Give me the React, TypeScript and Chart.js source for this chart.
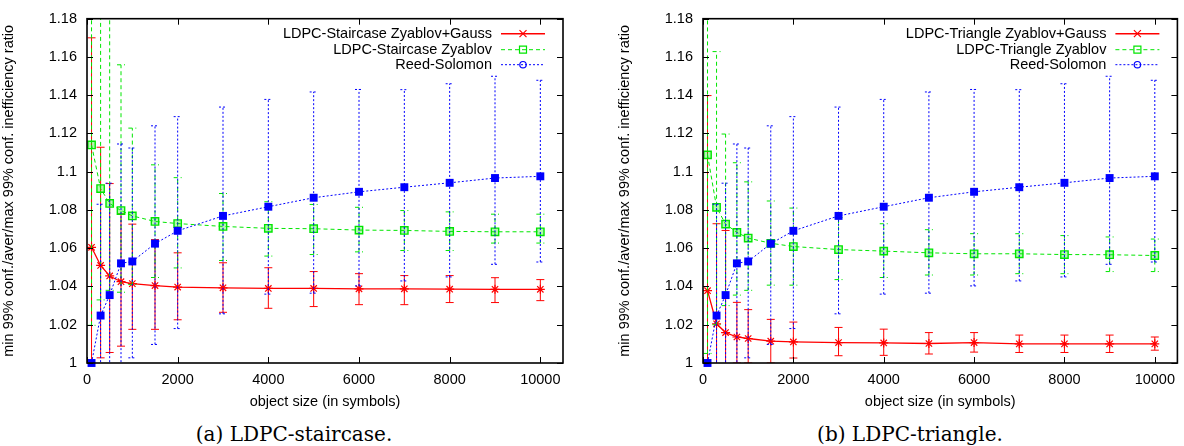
import React, { useEffect, useRef } from 'react';
import { Chart, registerables } from 'chart.js';

Chart.register(...registerables);

// ---------- data ----------
const objectSizes = [100, 300, 500, 750, 1000, 1500, 2000, 3000, 4000, 5000, 6000, 7000, 8000, 9000, 10000];
const xTicks = [0, 2000, 4000, 6000, 8000, 10000];
const yTicks = [1, 1.02, 1.04, 1.06, 1.08, 1.1, 1.12, 1.14, 1.16, 1.18];

// (a) LDPC-Staircase Zyablov+Gauss
const stairGaussMean = [1.0605, 1.051, 1.0455, 1.0425, 1.0415, 1.0405, 1.0397, 1.0393, 1.039, 1.039, 1.0388, 1.0388, 1.0386, 1.0385, 1.0385];
const stairGaussLow = [0.99, 1.0027, 1.0055, 1.0088, 1.0176, 1.0176, 1.0226, 1.0265, 1.0286, 1.0295, 1.0305, 1.0305, 1.0316, 1.0316, 1.0326];
const stairGaussHigh = [1.17, 1.1128, 1.0938, 1.078, 1.0726, 1.0645, 1.0576, 1.0524, 1.0498, 1.0478, 1.0467, 1.0457, 1.0457, 1.0446, 1.0436];

// (a) LDPC-Staircase Zyablov
const stairMean = [1.114, 1.0912, 1.0834, 1.0797, 1.0769, 1.074, 1.0729, 1.0714, 1.0704, 1.0702, 1.0695, 1.0693, 1.0688, 1.0686, 1.0686];
const stairLow = [1.0197, 1.033, 1.038, 1.037, 1.041, 1.0447, 1.0497, 1.0536, 1.0559, 1.0567, 1.0581, 1.0588, 1.0588, 1.0627, 1.0627];
const stairHigh = [1.2, 1.2, 1.2, 1.1559, 1.1228, 1.1036, 1.0969, 1.0886, 1.0843, 1.0829, 1.0814, 1.0797, 1.079, 1.0778, 1.0778];

// Reed-Solomon (both panels)
const rsMean = [1.0, 1.0248, 1.0355, 1.0521, 1.0531, 1.0624, 1.0691, 1.0769, 1.0817, 1.0864, 1.0895, 1.0919, 1.0942, 1.0967, 1.0976];
const rsLow = [1.0, 0.99, 0.99, 0.99, 1.0027, 1.0097, 1.018, 1.0257, 1.036, 1.0365, 1.0403, 1.0429, 1.045, 1.0516, 1.0528];
const rsHigh = [1.0, 1.083, 1.094, 1.1145, 1.1124, 1.124, 1.1288, 1.1338, 1.1378, 1.1417, 1.143, 1.1429, 1.146, 1.1499, 1.1478];

// (b) LDPC-Triangle Zyablov+Gauss
const triGaussMean = [1.0378, 1.0205, 1.0159, 1.0136, 1.0128, 1.0114, 1.011, 1.0107, 1.0105, 1.0102, 1.0107, 1.01, 1.01, 1.01, 1.01];
const triGaussLow = [0.99, 0.995, 0.999, 1.0, 1.0, 1.0, 1.0026, 1.0038, 1.004, 1.0047, 1.0057, 1.0055, 1.0055, 1.0055, 1.0067];
const triGaussHigh = [1.1398, 1.0728, 1.0693, 1.0317, 1.0279, 1.0228, 1.0214, 1.0186, 1.0177, 1.0159, 1.0159, 1.0146, 1.0146, 1.0146, 1.0136];

// (b) LDPC-Triangle Zyablov
const triMean = [1.1088, 1.0814, 1.0726, 1.0683, 1.0653, 1.0626, 1.0609, 1.0593, 1.0585, 1.0576, 1.0571, 1.0571, 1.0567, 1.0566, 1.0562];
const triLow = [1.005, 1.02, 1.03, 1.0355, 1.038, 1.0407, 1.0407, 1.0436, 1.0447, 1.046, 1.046, 1.0467, 1.0467, 1.0478, 1.0478];
const triHigh = [1.2, 1.1628, 1.1197, 1.1047, 1.0947, 1.0847, 1.081, 1.076, 1.0728, 1.0697, 1.0676, 1.0676, 1.0666, 1.0659, 1.0648];

const panelALabels = ['LDPC-Staircase Zyablov+Gauss', 'LDPC-Staircase Zyablov', 'Reed-Solomon'];
const panelBLabels = ['LDPC-Triangle Zyablov+Gauss', 'LDPC-Triangle Zyablov', 'Reed-Solomon'];

const xTitle = 'object size (in symbols)';
const yTitle = 'min 99% conf./aver/max 99% conf. inefficiency ratio';

// ---------- styles ----------
const RED = '#ff0000';
const GREEN = '#00e600';
const BLUE = '#0000ff';
const SANS = '"Liberation Sans", Arial, Helvetica, sans-serif';

type SeriesStyle = { color: string; dash: number[]; legendMarker: string };
const styles: SeriesStyle[] = [
  { color: RED, dash: [], legendMarker: 'cross' },
  { color: GREEN, dash: [4, 3], legendMarker: 'square' },
  { color: BLUE, dash: [2, 2], legendMarker: 'circle' },
];

function drawLegendMarker(ctx: CanvasRenderingContext2D, kind: string, x: number, y: number, color: string) {
  ctx.save();
  ctx.setLineDash([]);
  ctx.strokeStyle = color;
  ctx.lineWidth = 1.2;
  ctx.beginPath();
  if (kind === 'cross') {
    const r = 3.5;
    ctx.moveTo(x - r, y - r); ctx.lineTo(x + r, y + r);
    ctx.moveTo(x - r, y + r); ctx.lineTo(x + r, y - r);
  } else if (kind === 'square') {
    ctx.rect(x - 3.5, y - 3.5, 7, 7);
  } else {
    ctx.arc(x, y, 3.2, 0, Math.PI * 2);
  }
  ctx.stroke();
  ctx.restore();
}

function makePlugin(labels: string[]) {
  return {
    id: 'gnuFrame',
    beforeDatasetDraw(chart: any, args: any) {
      const ds = chart.data.datasets[args.index];
      if (!ds.errLow) return;
      const ctx: CanvasRenderingContext2D = chart.ctx;
      const xs = chart.scales.x;
      const ys = chart.scales.y;
      const a = chart.chartArea;
      ctx.save();
      ctx.beginPath();
      ctx.rect(a.left, a.top, a.right - a.left, a.bottom - a.top);
      ctx.clip();
      ctx.strokeStyle = ds.errColor;
      ctx.lineWidth = 1;
      ctx.setLineDash(ds.errDash);
      const cap = 4;
      for (let i = 0; i < objectSizes.length; i++) {
        const lo = ds.errLow[i];
        const hi = ds.errHigh[i];
        if (hi - lo < 1e-9) continue;
        const px = xs.getPixelForValue(objectSizes[i]);
        const pl = ys.getPixelForValue(lo);
        const ph = ys.getPixelForValue(hi);
        ctx.beginPath();
        ctx.moveTo(px, pl);
        ctx.lineTo(px, ph);
        ctx.moveTo(px - cap, pl);
        ctx.lineTo(px + cap, pl);
        ctx.moveTo(px - cap, ph);
        ctx.lineTo(px + cap, ph);
        ctx.stroke();
      }
      ctx.restore();
    },
    afterDraw(chart: any) {
      const ctx: CanvasRenderingContext2D = chart.ctx;
      const a = chart.chartArea;
      const xs = chart.scales.x;
      const ys = chart.scales.y;
      ctx.save();
      ctx.setLineDash([]);
      ctx.strokeStyle = '#000';
      ctx.lineWidth = 1;
      const tl = 6;
      ctx.beginPath();
      for (const v of xTicks) {
        const px = Math.round(xs.getPixelForValue(v)) + 0.5;
        ctx.moveTo(px, a.bottom); ctx.lineTo(px, a.bottom - tl);
        ctx.moveTo(px, a.top); ctx.lineTo(px, a.top + tl);
      }
      for (const v of yTicks) {
        const py = Math.round(ys.getPixelForValue(v)) + 0.5;
        ctx.moveTo(a.left, py); ctx.lineTo(a.left + tl, py);
        ctx.moveTo(a.right, py); ctx.lineTo(a.right - tl, py);
      }
      ctx.stroke();
      ctx.lineWidth = 1.6;
      ctx.strokeRect(a.left, a.top, a.right - a.left, a.bottom - a.top);

      // legend
      ctx.font = `14.5px ${SANS}`;
      ctx.fillStyle = '#000';
      ctx.textAlign = 'right';
      ctx.textBaseline = 'middle';
      const rowY = [a.top + 15, a.top + 31, a.top + 46];
      labels.forEach((lab, i) => {
        const y = rowY[i];
        const st = styles[i];
        ctx.fillText(lab, a.right - 71, y);
        ctx.save();
        ctx.strokeStyle = st.color;
        ctx.lineWidth = i === 0 ? 1.5 : 1;
        ctx.setLineDash(st.dash);
        ctx.beginPath();
        ctx.moveTo(a.right - 62, y);
        ctx.lineTo(a.right - 18, y);
        ctx.stroke();
        ctx.restore();
        drawLegendMarker(ctx, st.legendMarker, a.right - 40, y, st.color);
      });
      ctx.restore();
    },
  };
}

type PanelProps = {
  left: number;
  width: number;
  height: number;
  padRight: number;
  labels: string[];
  gaussMean: number[]; gaussLow: number[]; gaussHigh: number[];
  zyMean: number[]; zyLow: number[]; zyHigh: number[];
};

function Panel(p: PanelProps) {
  const ref = useRef<HTMLCanvasElement | null>(null);
  useEffect(() => {
    if (!ref.current) return;
    const mk = (vals: number[]) => objectSizes.map((x, i) => ({ x, y: vals[i] }));
    const tickFont = { family: SANS, size: 14.5 };
    const chart = new Chart(ref.current, {
      type: 'line',
      data: {
        datasets: [
          {
            label: p.labels[0],
            data: mk(p.gaussMean),
            borderColor: RED,
            backgroundColor: RED,
            borderWidth: 1.3,
            pointStyle: 'star',
            pointRadius: 4.5,
            pointBorderWidth: 1.2,
            pointBorderColor: RED,
            clip: false,
            order: 3,
            errLow: p.gaussLow, errHigh: p.gaussHigh, errColor: RED, errDash: [],
          } as any,
          {
            label: p.labels[1],
            data: mk(p.zyMean),
            borderColor: GREEN,
            backgroundColor: 'rgba(0,230,0,0.25)',
            borderWidth: 1,
            borderDash: [4, 3],
            pointStyle: 'rect',
            pointRadius: 5.2,
            pointBorderWidth: 1.4,
            pointBorderColor: GREEN,
            pointBackgroundColor: 'rgba(0,230,0,0.3)',
            clip: false,
            order: 2,
            errLow: p.zyLow, errHigh: p.zyHigh, errColor: GREEN, errDash: [4, 3],
          } as any,
          {
            label: p.labels[2],
            data: mk(rsMean),
            borderColor: BLUE,
            backgroundColor: BLUE,
            borderWidth: 1,
            borderDash: [2, 2],
            pointStyle: 'rect',
            pointRadius: 5.6,
            pointBorderWidth: 0,
            pointBackgroundColor: BLUE,
            clip: false,
            order: 1,
            errLow: rsLow, errHigh: rsHigh, errColor: BLUE, errDash: [2, 2],
          } as any,
        ],
      },
      options: {
        animation: false,
        responsive: false,
        maintainAspectRatio: false,
        events: [],
        layout: { padding: { left: 0, top: 15, right: p.padRight, bottom: 0 } },
        plugins: { legend: { display: false }, tooltip: { enabled: false } },
        elements: { line: { tension: 0 } },
        scales: {
          x: {
            type: 'linear',
            min: 0,
            max: 10500,
            afterBuildTicks: (s: any) => { s.ticks = xTicks.map((v) => ({ value: v })); },
            afterFit: (s: any) => { s.height = 52; },
            grid: { display: false, drawTicks: false },
            border: { display: false },
            ticks: {
              autoSkip: false,
              maxRotation: 0,
              padding: 8,
              color: '#000',
              font: tickFont,
              callback: (v: any) => String(v),
            },
            title: {
              display: true,
              text: xTitle,
              color: '#000',
              font: { family: SANS, size: 14.5 },
              padding: { top: 0, bottom: 4.5 },
            },
          },
          y: {
            type: 'linear',
            min: 1,
            max: 1.18,
            afterBuildTicks: (s: any) => { s.ticks = yTicks.map((v) => ({ value: v })); },
            afterFit: (s: any) => { s.width = 87; },
            grid: { display: false, drawTicks: false },
            border: { display: false },
            ticks: {
              autoSkip: false,
              padding: 10,
              color: '#000',
              font: tickFont,
              callback: (v: any) => String(Number(Number(v).toFixed(2))),
            },
            title: {
              display: true,
              text: yTitle,
              color: '#000',
              font: { family: SANS, size: 14.5 },
              padding: { top: 0, bottom: 0 },
            },
          },
        },
      },
      plugins: [makePlugin(p.labels)],
    });
    return () => chart.destroy();
  }, []);
  return (
    <canvas
      ref={ref}
      width={p.width}
      height={p.height}
      style={{ position: 'absolute', left: p.left, top: 0, width: p.width, height: p.height }}
    />
  );
}

const captionStyle: React.CSSProperties = {
  position: 'absolute',
  top: 422,
  width: 260,
  textAlign: 'center',
  fontFamily: '"DejaVu Serif", "Liberation Serif", serif',
  fontSize: 20,
  lineHeight: '24px',
  color: '#000',
  whiteSpace: 'nowrap',
};

export default function App() {
  return (
    <div style={{ position: 'absolute', left: 0, top: 0, width: 1184, height: 446, background: '#fff', overflow: 'hidden' }}>
      <Panel
        left={0}
        width={592}
        height={415}
        padRight={29}
        labels={panelALabels}
        gaussMean={stairGaussMean} gaussLow={stairGaussLow} gaussHigh={stairGaussHigh}
        zyMean={stairMean} zyLow={stairLow} zyHigh={stairHigh}
      />
      <Panel
        left={616}
        width={568}
        height={415}
        padRight={5}
        labels={panelBLabels}
        gaussMean={triGaussMean} gaussLow={triGaussLow} gaussHigh={triGaussHigh}
        zyMean={triMean} zyLow={triLow} zyHigh={triHigh}
      />
      <div style={{ ...captionStyle, left: 294 - 130 }}>(a) LDPC-staircase.</div>
      <div style={{ ...captionStyle, left: 910 - 130 }}>(b) LDPC-triangle.</div>
    </div>
  );
}
